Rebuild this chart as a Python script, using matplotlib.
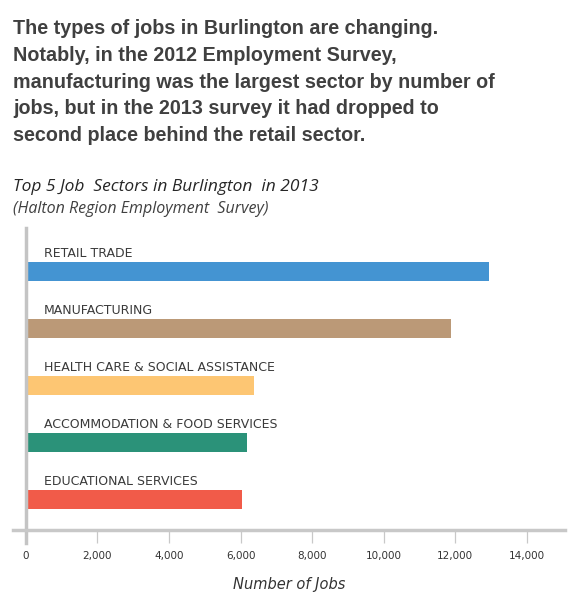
import matplotlib
matplotlib.use("Agg")
import matplotlib.pyplot as plt
from matplotlib.ticker import FuncFormatter

# ---- data ----
sectors = ["RETAIL TRADE", "MANUFACTURING", "HEALTH CARE & SOCIAL ASSISTANCE",
           "ACCOMMODATION & FOOD SERVICES", "EDUCATIONAL SERVICES"]
jobs = [12950, 11900, 6380, 6180, 6030]
colors = ["#4494d2", "#bb9977", "#fdc673", "#2b9279", "#f15b49"]
xticks = [0, 2000, 4000, 6000, 8000, 10000, 12000, 14000]

header = ("The types of jobs in Burlington are changing.\n"
          "Notably, in the 2012 Employment Survey,\n"
          "manufacturing was the largest sector by number of\n"
          "jobs, but in the 2013 survey it had dropped to\n"
          "second place behind the retail sector.")
title1 = "Top 5 Job  Sectors in Burlington  in 2013"
title2 = "(Halton Region Employment  Survey)"
xlabel = "Number of Jobs"

W, H, DPI = 579, 609, 100
fig = plt.figure(figsize=(W / DPI, H / DPI), dpi=DPI)
fig.patch.set_facecolor("white")

# axes placed in pixel terms
left_px, right_px, top_px, bot_px = 13, 565, 228, 530
ax = fig.add_axes([left_px / W, 1 - bot_px / H, (right_px - left_px) / W, (bot_px - top_px) / H])

ypos = list(range(len(sectors)))
ax.barh(ypos, jobs, height=0.335, color=colors, left=0)
ax.set_xlim(-363, 15075)
ax.set_ylim(4.54, -0.76)

for i, lab in enumerate(sectors):
    ax.annotate(lab, xy=(0, i), xytext=(18, 18), textcoords="offset pixels",
                fontsize=9, color="#3a3a3a", family="DejaVu Sans",
                va="center", ha="left")

for s in ["top", "right", "left"]:
    ax.spines[s].set_visible(False)
ax.spines["bottom"].set_color("#c8c8c8")
ax.spines["bottom"].set_linewidth(2.5)
ax.axvline(0, ymin=-0.043, ymax=1.0, color="#c4c4c4", lw=2.5, clip_on=False)

ax.set_yticks([])
ax.set_xticks(xticks)
ax.xaxis.set_major_formatter(FuncFormatter(lambda v, p: f"{int(v):,}"))
ax.tick_params(axis="x", direction="out", length=9.4, width=0.9, color="#c8c8c8",
               labelsize=7.5, labelcolor="#333333", pad=6)
ax.set_xlabel(xlabel, fontsize=10.5, style="italic", color="#333333", labelpad=11,
              family="DejaVu Sans")

fig.text(13 / W, 1 - 19 / H, header, ha="left", va="top", fontsize=14.2,
         fontweight="bold", family="Liberation Sans", color="#404040",
         linespacing=1.52)
fig.text(13 / W, 1 - 187 / H, title1, ha="left", va="center", fontsize=12.5,
         style="italic", family="Open Sans", color="#262626")
fig.text(13 / W, 1 - 209 / H, title2, ha="left", va="center", fontsize=11.5,
         style="italic", family="Open Sans", color="#404040")

fig.savefig("out.png", dpi=DPI, facecolor="white")
